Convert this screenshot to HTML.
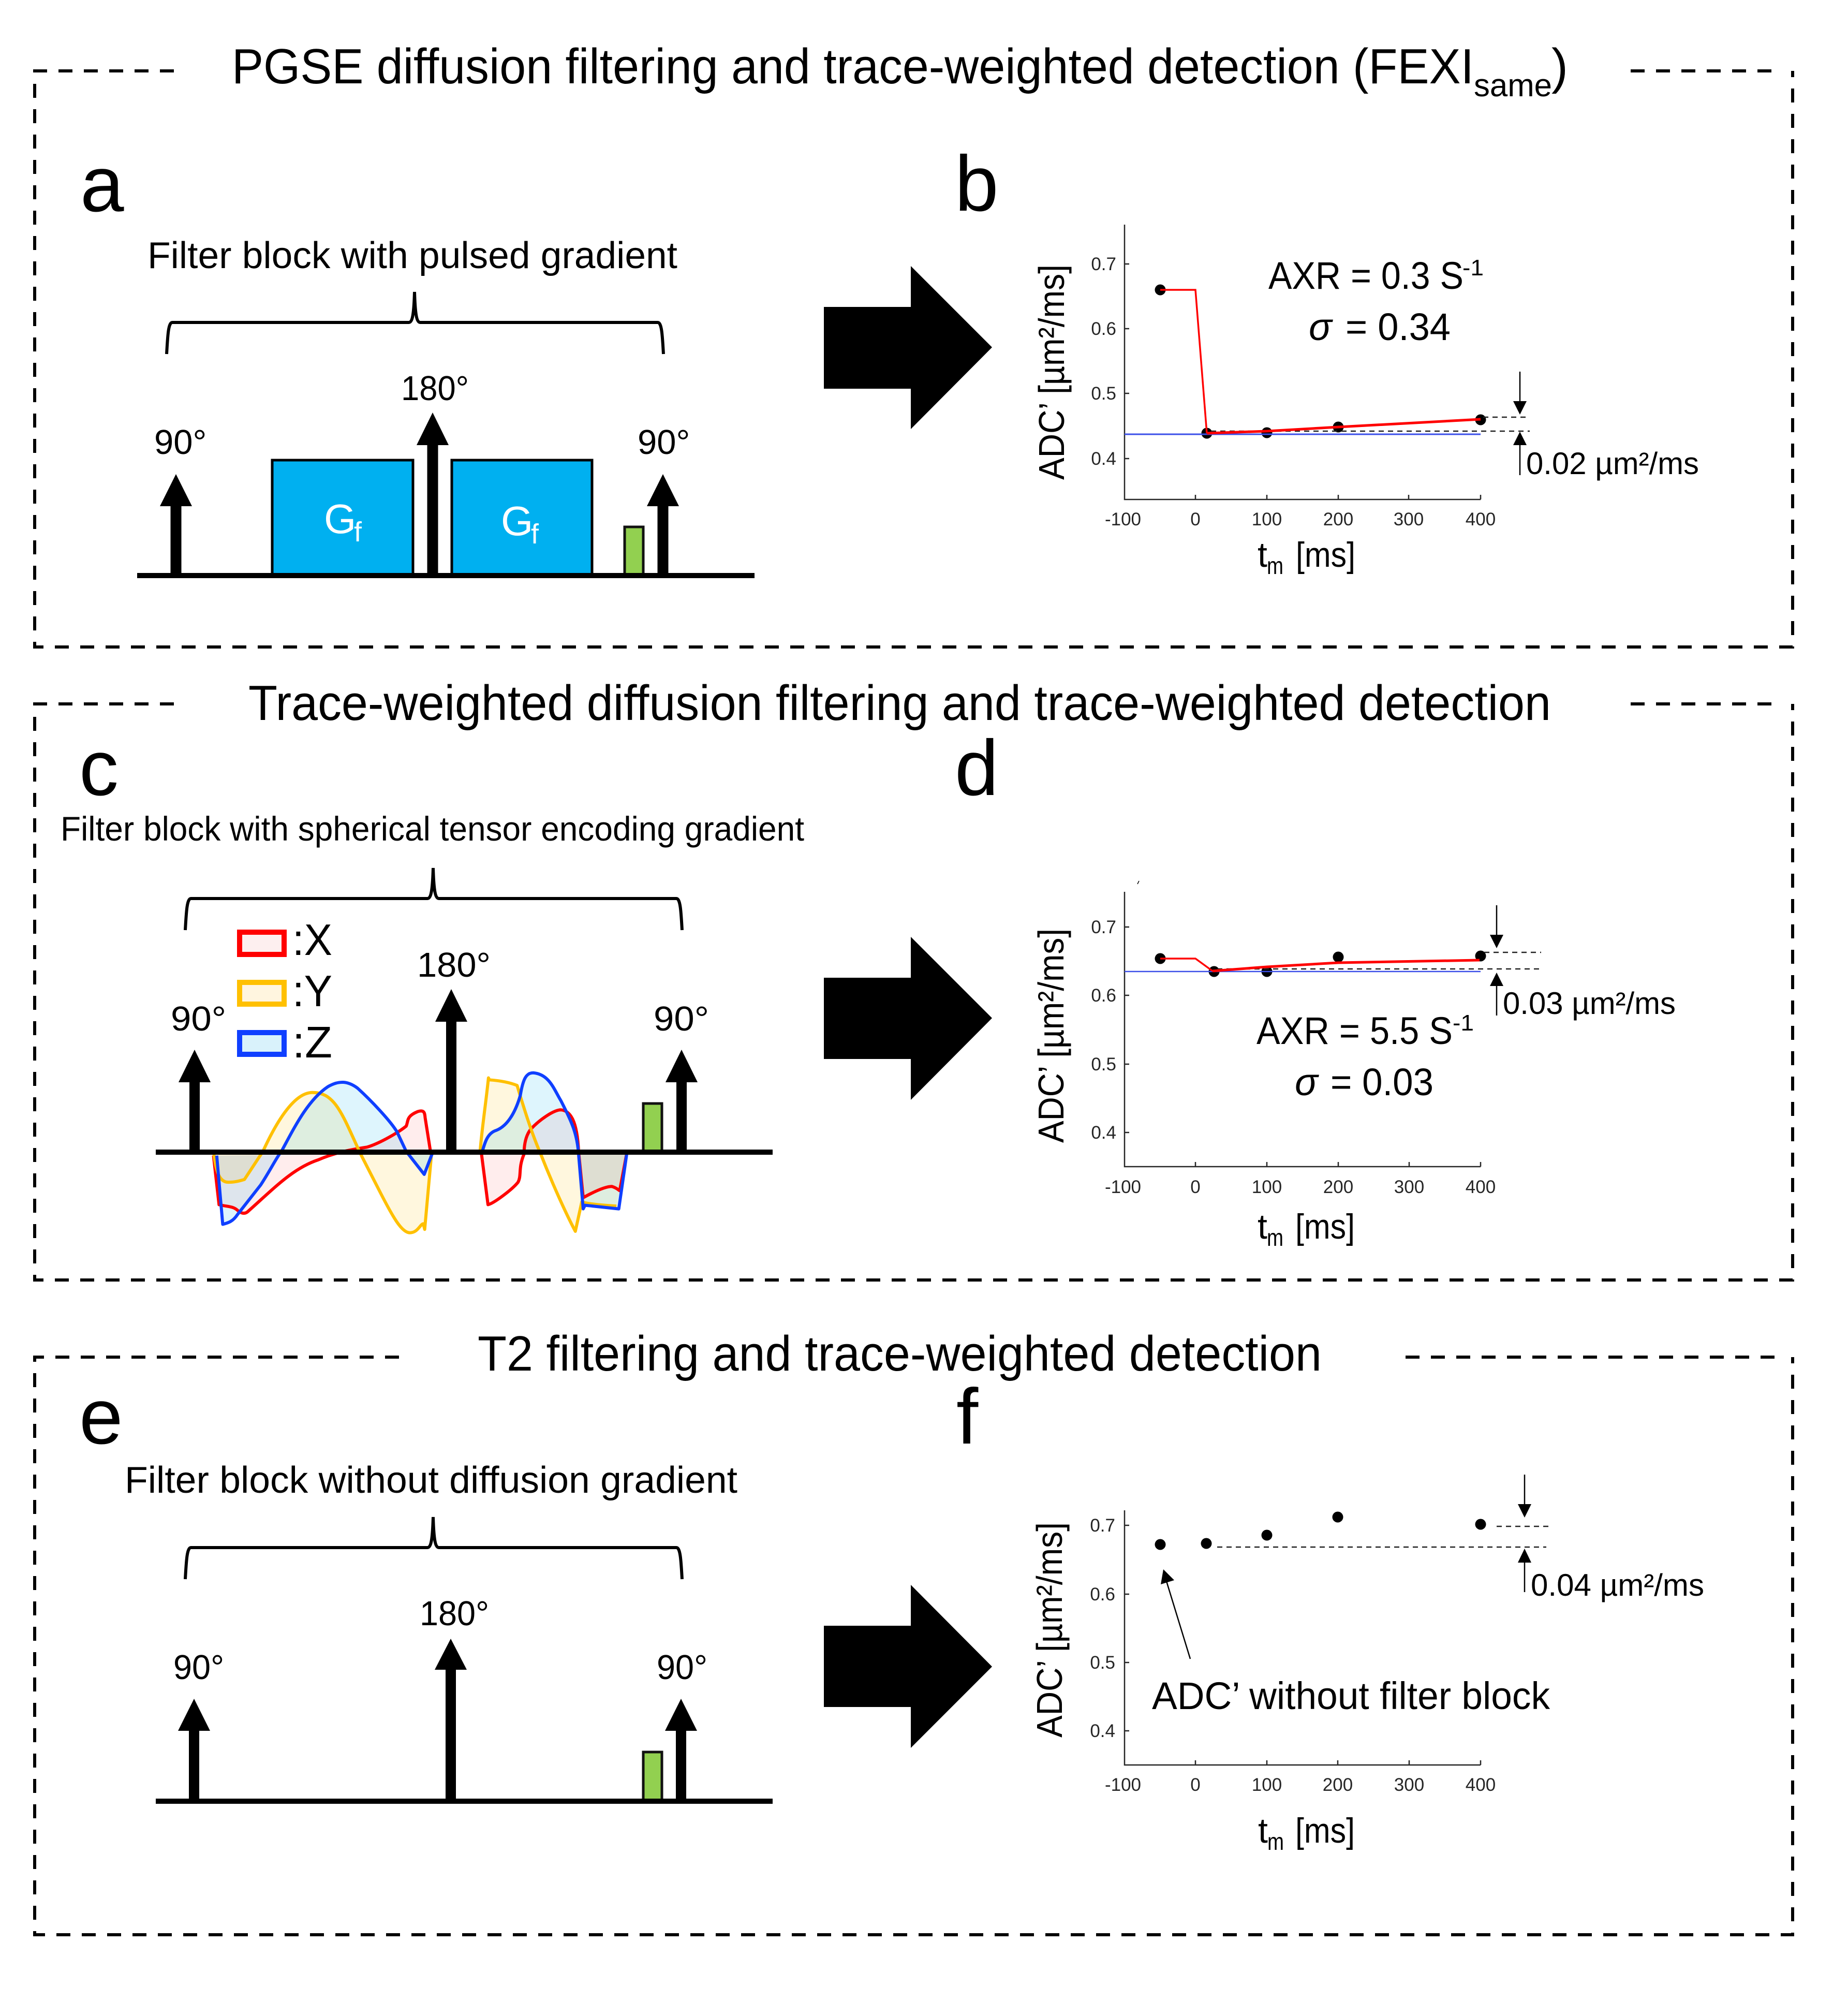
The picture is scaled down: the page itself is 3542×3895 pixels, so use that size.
<!DOCTYPE html>
<html><head><meta charset="utf-8"><style>
html,body{margin:0;padding:0;background:#fff}
svg{display:block}
text{font-family:"Liberation Sans",sans-serif;fill:#000}
.t{font-size:96px}.l{font-size:152px}.f{font-size:72px}.d{font-size:67px}
.tk{font-size:35px;fill:#262626}.xt{text-anchor:middle}.yt{text-anchor:end}
.c{font-size:74px}.m{font-size:60px}
.box{fill:none;stroke:#000;stroke-width:6;stroke-dasharray:27 22}
.br{fill:none;stroke:#000;stroke-width:6}
.ax{fill:none;stroke:#262626;stroke-width:2.5}
.da{fill:none;stroke:#222;stroke-width:2.5;stroke-dasharray:10 8}
.ar{fill:none;stroke:#000;stroke-width:2.5}
.r{fill:none;stroke:#f00}
.w{vector-effect:non-scaling-stroke;stroke-width:6;stroke-linejoin:round;stroke-linecap:butt}
</style></head><body>
<svg xmlns="http://www.w3.org/2000/svg" width="3542" height="3895" viewBox="0 0 3542 3895">
<rect width="3542" height="3895" fill="#fff"/>

<!-- borders -->
<path class="box" d="M336,137H67V1250H3464V137"/><path class="box" d="M3151,137H3445"/>
<path class="box" d="M336,1360H67V2473H3464V1360"/><path class="box" d="M3151,1360H3445"/>
<path class="box" d="M771,2622H67V3738H3464V2622"/><path class="box" d="M2716,2622H3445"/>

<!-- titles -->
<text class="t" x="448" y="161" textLength="2400" lengthAdjust="spacingAndGlyphs">PGSE diffusion filtering and trace-weighted detection (FEXI</text>
<text x="2848" y="186" textLength="151" lengthAdjust="spacingAndGlyphs" style="font-size:62px">same</text>
<text class="t" x="2998" y="161">)</text>
<text class="t" x="480" y="1391" textLength="2517" lengthAdjust="spacingAndGlyphs">Trace-weighted diffusion filtering and trace-weighted detection</text>
<text class="t" x="923" y="2648" textLength="1631" lengthAdjust="spacingAndGlyphs">T2 filtering and trace-weighted detection</text>

<!-- panel letters -->
<text class="l" x="155" y="408">a</text><text class="l" x="1845" y="407">b</text>
<text class="l" x="153" y="1536">c</text><text class="l" x="1845" y="1536">d</text>
<text class="l" x="153" y="2789">e</text><text class="l" x="1848" y="2789">f</text>

<!-- filter captions -->
<text class="f" x="285" y="518" textLength="1024" lengthAdjust="spacingAndGlyphs">Filter block with pulsed gradient</text>
<text x="117" y="1624" textLength="1437" lengthAdjust="spacingAndGlyphs" style="font-size:66px">Filter block with spherical tensor encoding gradient</text>
<text class="f" x="241" y="2884" textLength="1184" lengthAdjust="spacingAndGlyphs">Filter block without diffusion gradient</text>

<!-- braces -->
<path class="br" d="M322,684C324,650 325,623 333,623L790,623C798,623 800,600 801,564C802,600 804,623 812,623L1271,623C1279,623 1280,650 1282,684"/>
<path class="br" transform="translate(36,1113)" d="M322,684C324,650 325,623 333,623L790,623C798,623 800,600 801,564C802,600 804,623 812,623L1271,623C1279,623 1280,650 1282,684"/>
<path class="br" transform="translate(36,2367)" d="M322,684C324,650 325,623 333,623L790,623C798,623 800,600 801,564C802,600 804,623 812,623L1271,623C1279,623 1280,650 1282,684"/>

<!-- Panel a sequence -->
<rect x="526" y="889" width="272" height="223" fill="#00B0F0" stroke="#000" stroke-width="5"/>
<rect x="873" y="889" width="271" height="223" fill="#00B0F0" stroke="#000" stroke-width="5"/>
<text x="626" y="1030" style="font-size:80px;fill:#fff">G</text><text x="684" y="1046" style="font-size:54px;fill:#fff">f</text>
<text x="968" y="1034" style="font-size:80px;fill:#fff">G</text><text x="1026" y="1050" style="font-size:54px;fill:#fff">f</text>
<rect x="1207" y="1018" width="36" height="94" fill="#92D050" stroke="#111" stroke-width="5"/>
<path d="M340,916l31,62h-20.5v134h-21v-134h-20.5z"/>
<path d="M836,797l31,63h-20.5v252h-21v-252h-20.5z"/>
<path d="M1281,916l31,62h-20.5v134h-21v-134h-20.5z"/>
<rect x="265" y="1107" width="1193" height="10"/>
<text class="d" x="298" y="877">90°</text>
<text class="d" x="775" y="773" textLength="131" lengthAdjust="spacingAndGlyphs">180°</text>
<text class="d" x="1232" y="877">90°</text>

<!-- Panel c sequence -->
<path d="M376,2028l31,63h-21v135h-20v-135h-21z"/>
<path d="M872,1911l31,63h-21v252h-20v-252h-21z"/>
<path d="M1317,2028l31,63h-21v135h-20v-135h-21z"/>
<rect x="1243" y="2132" width="36" height="94" fill="#92D050" stroke="#111" stroke-width="5"/>
<g transform="translate(200,1650) scale(.893,.542)" stroke-width="6">
  <g stroke="none">
    <path fill="#FFC000" fill-opacity=".13" d="M238,1063C243,1130 250,1170 270,1170C285,1170 295,1165 305,1160L345,1060C370,970 410,850 452,850C500,850 515,920 555,1065L600,1210C625,1290 645,1350 663,1350C680,1350 685,1320 692,1318L695,1338L710,1063Z"/>
    <path fill="#FF0000" fill-opacity=".07" d="M238,1075L250,1250C270,1258 280,1255 290,1270C297,1280 305,1285 312,1275C370,1190 410,1120 465,1090C500,1065 530,1055 570,1045C600,1030 640,990 655,970C660,950 655,935 680,918C695,910 695,925 696,940L708,1065Z"/>
    <path fill="#00B0F0" fill-opacity=".13" d="M245,1075L258,1320C270,1315 280,1310 290,1285L340,1180C360,1130 375,1080 385,1060C410,985 440,880 485,830C510,805 530,810 550,835C580,880 620,950 635,990L655,1060L694,1142L712,1065Z"/>
    <path fill="#FFC000" fill-opacity=".13" d="M815,1063C818,990 828,880 833,798L835,805C860,808 880,815 895,825C905,880 925,990 945,1065C970,1170 1000,1280 1021,1345L1035,1240C1045,1245 1060,1250 1110,1255L1133,1063Z"/>
    <path fill="#FF0000" fill-opacity=".07" d="M818,1070L832,1250C845,1245 885,1195 897,1170C905,1145 897,1120 910,1070C910,1030 915,1000 925,980C945,945 975,912 990,912C1010,915 1025,950 1028,1060L1038,1225C1060,1205 1085,1185 1100,1185C1110,1190 1112,1195 1117,1200L1133,1063Z"/>
    <path fill="#00B0F0" fill-opacity=".13" d="M818,1070C825,1030 830,995 850,985C880,965 895,900 902,860C908,800 915,780 930,780C965,785 975,840 990,880C1015,960 1025,1000 1028,1070L1038,1265L1042,1252L1115,1265L1133,1063Z"/>
  </g>
  <g fill="none">
    <path class="w" stroke="#f00" d="M238,1075L250,1250C270,1258 280,1255 290,1270C297,1280 305,1285 312,1275C370,1190 410,1120 465,1090C500,1065 530,1055 570,1045C600,1030 640,990 655,970C660,950 655,935 680,918C695,910 695,925 696,940L708,1065"/>
    <path class="w" stroke="#f00" d="M818,1070L832,1250C845,1245 885,1195 897,1170C905,1145 897,1120 910,1070C910,1030 915,1000 925,980C945,945 975,912 990,912C1010,915 1025,950 1028,1060L1038,1225C1060,1205 1085,1185 1100,1185C1110,1190 1112,1195 1117,1200L1133,1060"/>
    <path class="w" stroke="#FFC000" d="M238,1058C243,1130 250,1170 270,1170C285,1170 295,1165 305,1160L345,1060C370,970 410,850 452,850C500,850 515,920 555,1065L600,1210C625,1290 645,1350 663,1350C680,1350 685,1320 692,1318L695,1338L710,1065"/>
    <path class="w" stroke="#FFC000" d="M815,1060C818,990 828,880 833,798L835,805C860,808 880,815 895,825C905,880 925,990 945,1065C970,1170 1000,1280 1021,1345L1035,1240C1045,1245 1060,1250 1110,1255"/>
    <path class="w" stroke="#0F3FFF" d="M245,1075L258,1320C270,1315 280,1310 290,1285L340,1180C360,1130 375,1080 385,1060C410,985 440,880 485,830C510,805 530,810 550,835C580,880 620,950 635,990L655,1060L694,1142L712,1065"/>
    <path class="w" stroke="#0F3FFF" d="M818,1070C825,1030 830,995 850,985C880,965 895,900 902,860C908,800 915,780 930,780C965,785 975,840 990,880C1015,960 1025,1000 1028,1070L1038,1265L1042,1252L1115,1265L1133,1060"/>
  </g>
</g>
<rect x="301" y="2221" width="1192" height="10"/>
<rect x="463" y="1801" width="86" height="43" fill="#FDEFEF" stroke="#f00" stroke-width="10"/>
<rect x="463" y="1898" width="86" height="42" fill="#FFF5DF" stroke="#FFC000" stroke-width="10"/>
<rect x="463" y="1995" width="86" height="42" fill="#D9F2FB" stroke="#0F3FFF" stroke-width="10"/>
<text x="565" y="1845" textLength="77" lengthAdjust="spacingAndGlyphs" style="font-size:85px">:X</text>
<text x="565" y="1944" textLength="77" lengthAdjust="spacingAndGlyphs" style="font-size:85px">:Y</text>
<text x="565" y="2043" textLength="77" lengthAdjust="spacingAndGlyphs" style="font-size:85px">:Z</text>
<text class="d" x="330" y="1991" textLength="107" lengthAdjust="spacingAndGlyphs">90°</text>
<text class="d" x="806" y="1887" textLength="142" lengthAdjust="spacingAndGlyphs">180°</text>
<text class="d" x="1263" y="1991" textLength="107" lengthAdjust="spacingAndGlyphs">90°</text>

<!-- Panel e sequence -->
<path d="M375,3282l31,62h-21v136h-20v-136h-21z"/>
<path d="M871,3166l31,60h-21v254h-20v-254h-21z"/>
<path d="M1316,3282l31,62h-21v136h-20v-136h-21z"/>
<rect x="1243" y="3385" width="36" height="95" fill="#92D050" stroke="#111" stroke-width="5"/>
<rect x="301" y="3475" width="1192" height="10"/>
<text class="d" x="335" y="3244" textLength="98" lengthAdjust="spacingAndGlyphs">90°</text>
<text class="d" x="811" y="3140" textLength="134" lengthAdjust="spacingAndGlyphs">180°</text>
<text class="d" x="1269" y="3244" textLength="98" lengthAdjust="spacingAndGlyphs">90°</text>

<!-- big arrows -->
<polygon points="1592,593 1760,593 1760,514 1917,671 1760,829 1760,751 1592,751"/>
<polygon points="1592,1889 1760,1889 1760,1810 1917,1967 1760,2125 1760,2046 1592,2046"/>
<polygon points="1592,3141 1760,3141 1760,3062 1917,3220 1760,3377 1760,3298 1592,3298"/>

<!-- Plot b -->
<path class="ax" d="M2173,434V965H2861M2310,965v-9M2448,965v-9M2586,965v-9M2722,965v-9M2861,965v-9M2173,510h9M2173,635h9M2173,760h9M2173,886h9"/>
<text class="tk yt" x="2157" y="522">0.7</text><text class="tk yt" x="2157" y="647">0.6</text><text class="tk yt" x="2157" y="772">0.5</text><text class="tk yt" x="2157" y="898">0.4</text>
<text class="tk xt" x="2170" y="1015">-100</text><text class="tk xt" x="2310" y="1015">0</text><text class="tk xt" x="2448" y="1015">100</text><text class="tk xt" x="2586" y="1015">200</text><text class="tk xt" x="2722" y="1015">300</text><text class="tk xt" x="2861" y="1015">400</text>
<circle cx="2242" cy="560" r="10.5"/><circle cx="2332" cy="837" r="10.5"/><circle cx="2448" cy="836" r="10.5"/><circle cx="2586" cy="825" r="10.5"/><circle cx="2861" cy="811" r="10.5"/>
<path stroke="#3B4FE8" stroke-width="3" fill="none" d="M2173,839H2861"/>
<path class="da" d="M2340,833H2956M2866,806H2956"/>
<path class="r" stroke-width="3.5" d="M2242,560H2310L2332,837"/>
<path class="r" stroke-width="5" d="M2332,837L2448,833L2586,825L2861,810"/>
<path class="ar" d="M2937,718V780M2937,860V918"/>
<polygon points="2924,775 2950,775 2937,801"/><polygon points="2924,860 2950,860 2937,834"/>
<text class="m" x="2949" y="916" textLength="334" lengthAdjust="spacingAndGlyphs">0.02 µm²/ms</text>
<text class="c" x="2451" y="558" textLength="377" lengthAdjust="spacingAndGlyphs">AXR = 0.3 S</text>
<text x="2826" y="532" textLength="41" lengthAdjust="spacingAndGlyphs" style="font-size:44px">-1</text>
<text class="c" x="2529" y="657" style="font-style:italic">σ</text>
<text class="c" x="2600" y="657" textLength="203" lengthAdjust="spacingAndGlyphs">= 0.34</text>
<text transform="translate(2056,927) rotate(-90)" textLength="416" lengthAdjust="spacingAndGlyphs" style="font-size:70px">ADC’ [µm²/ms]</text>
<text x="2430" y="1095" style="font-size:68px">t</text><text x="2448" y="1109" textLength="32" lengthAdjust="spacingAndGlyphs" style="font-size:46px">m</text><text x="2504" y="1095" textLength="115" lengthAdjust="spacingAndGlyphs" style="font-size:68px">[ms]</text>

<!-- Plot d -->
<path class="ax" d="M2173,1723V2254H2861M2310,2254v-9M2448,2254v-9M2586,2254v-9M2723,2254v-9M2861,2254v-9M2173,1791h9M2173,1923h9M2173,2056h9M2173,2188h9"/>
<path d="M2198,1708l3,-6" stroke="#000" stroke-width="1.5"/>
<text class="tk yt" x="2157" y="1803">0.7</text><text class="tk yt" x="2157" y="1935">0.6</text><text class="tk yt" x="2157" y="2068">0.5</text><text class="tk yt" x="2157" y="2200">0.4</text>
<text class="tk xt" x="2170" y="2305">-100</text><text class="tk xt" x="2310" y="2305">0</text><text class="tk xt" x="2448" y="2305">100</text><text class="tk xt" x="2586" y="2305">200</text><text class="tk xt" x="2723" y="2305">300</text><text class="tk xt" x="2861" y="2305">400</text>
<circle cx="2242" cy="1852" r="10.5"/><circle cx="2346" cy="1877" r="10.5"/><circle cx="2448" cy="1877" r="10.5"/><circle cx="2586" cy="1849" r="10.5"/><circle cx="2861" cy="1847" r="10.5"/>
<path stroke="#3B4FE8" stroke-width="2.5" fill="none" d="M2173,1877H2861"/>
<path class="da" d="M2352,1872H2979M2868,1840H2978"/>
<path class="r" stroke-width="3.5" d="M2242,1852H2310L2343,1876"/>
<path class="r" stroke-width="5" d="M2343,1876L2448,1868L2586,1860L2859,1855"/>
<path class="ar" d="M2892,1749V1810M2892,1905V1962"/>
<polygon points="2879,1806 2905,1806 2892,1832"/><polygon points="2879,1905 2905,1905 2892,1879"/>
<text class="m" x="2904" y="1959" textLength="334" lengthAdjust="spacingAndGlyphs">0.03 µm²/ms</text>
<text class="c" x="2428" y="2017" textLength="379" lengthAdjust="spacingAndGlyphs">AXR = 5.5 S</text>
<text x="2807" y="1991" textLength="41" lengthAdjust="spacingAndGlyphs" style="font-size:44px">-1</text>
<text class="c" x="2502" y="2116" style="font-style:italic">σ</text>
<text class="c" x="2571" y="2116" textLength="199" lengthAdjust="spacingAndGlyphs">= 0.03</text>
<text transform="translate(2055,2208) rotate(-90)" textLength="414" lengthAdjust="spacingAndGlyphs" style="font-size:70px">ADC’ [µm²/ms]</text>
<text x="2430" y="2393" style="font-size:68px">t</text><text x="2448" y="2407" textLength="32" lengthAdjust="spacingAndGlyphs" style="font-size:46px">m</text><text x="2503" y="2393" textLength="115" lengthAdjust="spacingAndGlyphs" style="font-size:68px">[ms]</text>

<!-- Plot f -->
<path class="ax" d="M2173,2918V3410H2861M2310,3410v-9M2448,3410v-9M2585,3410v-9M2723,3410v-9M2861,3410v-9M2173,2947h9M2173,3080h9M2173,3212h9M2173,3344h9"/>
<text class="tk yt" x="2155" y="2959">0.7</text><text class="tk yt" x="2155" y="3092">0.6</text><text class="tk yt" x="2155" y="3224">0.5</text><text class="tk yt" x="2155" y="3356">0.4</text>
<text class="tk xt" x="2170" y="3460">-100</text><text class="tk xt" x="2310" y="3460">0</text><text class="tk xt" x="2448" y="3460">100</text><text class="tk xt" x="2585" y="3460">200</text><text class="tk xt" x="2723" y="3460">300</text><text class="tk xt" x="2861" y="3460">400</text>
<circle cx="2242" cy="2984" r="10.5"/><circle cx="2331" cy="2982" r="10.5"/><circle cx="2448" cy="2966" r="10.5"/><circle cx="2585" cy="2931" r="10.5"/><circle cx="2861" cy="2945" r="10.5"/>
<path class="da" d="M2352,2989H2988M2892,2949H2998"/>
<path class="ar" d="M2946,2849V2910M2946,3019V3076"/>
<polygon points="2933,2906 2959,2906 2946,2932"/><polygon points="2933,3019 2959,3019 2946,2992"/>
<path class="ar" d="M2300,3205L2254,3055"/>
<polygon points="2248,3032 2243,3061 2269,3053"/>
<text class="m" x="2958" y="3083" textLength="335" lengthAdjust="spacingAndGlyphs">0.04 µm²/ms</text>
<text class="c" x="2226" y="3302" textLength="769" lengthAdjust="spacingAndGlyphs">ADC’ without filter block</text>
<text transform="translate(2052,3357) rotate(-90)" textLength="416" lengthAdjust="spacingAndGlyphs" style="font-size:70px">ADC’ [µm²/ms]</text>
<text x="2431" y="3560" style="font-size:68px">t</text><text x="2449" y="3574" textLength="32" lengthAdjust="spacingAndGlyphs" style="font-size:46px">m</text><text x="2503" y="3560" textLength="115" lengthAdjust="spacingAndGlyphs" style="font-size:68px">[ms]</text>
</svg>
</body></html>
